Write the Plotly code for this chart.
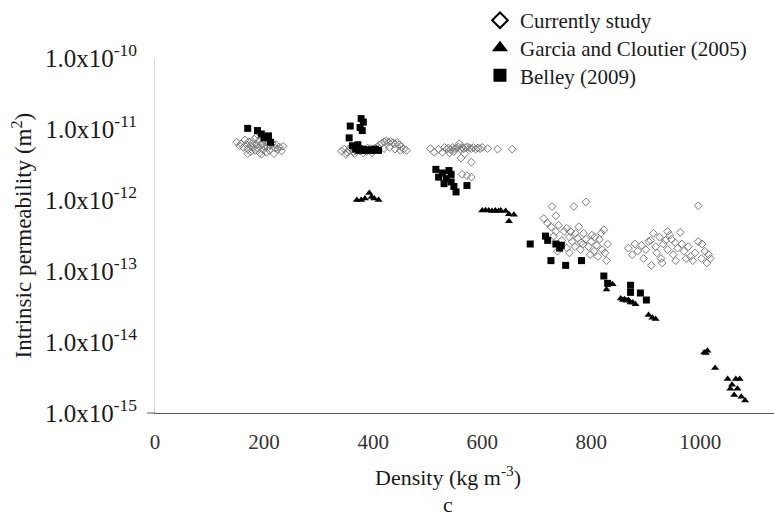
import plotly.graph_objects as go

# ---------------- data ----------------
# Currently study (open diamonds)
study_density = [
    150,155,158,162,165,168,170,172,175,176,178,180,182,184,186,188,190,192,194,196,198,200,202,204,206,208,210,212,215,218,220,222,225,228,232,235,185,195,205,170,
    342,347,352,356,360,364,368,372,376,380,384,388,392,396,400,404,350,358,366,374,382,390,398,408,412,416,420,424,428,432,436,440,444,448,452,456,461,420,430,440,450,
    505,512,520,527,531,535,538,542,546,550,553,556,560,563,566,570,573,577,580,584,588,592,596,600,610,628,655,540,558,561,548,568,580,563,572,580,
    728,768,790,713,735,726,740,755,777,823,731,771,786,801,746,781,750,760,765,770,775,780,785,790,795,800,805,810,815,820,825,830,745,755,738,812,798,760,735,720,762,806,818,828,
    868,875,880,885,892,896,900,905,909,914,918,920,925,928,932,936,940,944,947,950,954,958,963,966,970,974,978,982,986,990,996,996,1003,1008,1015,1002,1018,1012,930,910,955,940,
]
study_perm = [
    6.5e-12,5.8e-12,6.2e-12,5.5e-12,7.0e-12,6.0e-12,5.2e-12,6.6e-12,5.8e-12,4.8e-12,6.3e-12,5.5e-12,7.2e-12,5.0e-12,6.0e-12,5.4e-12,6.8e-12,4.6e-12,5.9e-12,6.4e-12,5.1e-12,5.7e-12,6.9e-12,4.7e-12,5.5e-12,6.1e-12,5.0e-12,5.8e-12,6.3e-12,4.5e-12,5.4e-12,6.0e-12,5.2e-12,5.6e-12,4.9e-12,5.7e-12,7.6e-12,4.4e-12,7.4e-12,4.5e-12,
    4.9e-12,5.2e-12,4.7e-12,5.0e-12,5.3e-12,4.8e-12,5.0e-12,5.1e-12,4.9e-12,5.2e-12,5.0e-12,4.8e-12,5.1e-12,5.3e-12,5.0e-12,5.4e-12,4.4e-12,5.5e-12,4.5e-12,5.6e-12,4.6e-12,5.4e-12,4.6e-12,5.6e-12,6.0e-12,6.3e-12,6.6e-12,6.8e-12,6.5e-12,6.7e-12,6.4e-12,6.2e-12,6.5e-12,6.0e-12,5.6e-12,5.2e-12,5.0e-12,5.3e-12,5.5e-12,5.2e-12,5.0e-12,
    5.3e-12,4.7e-12,5.2e-12,4.7e-12,5.5e-12,5.2e-12,5.4e-12,5.1e-12,5.5e-12,5.3e-12,5.4e-12,5.6e-12,5.2e-12,5.5e-12,5.3e-12,5.5e-12,5.6e-12,5.4e-12,5.3e-12,5.5e-12,5.2e-12,5.4e-12,5.3e-12,5.5e-12,5.3e-12,5.2e-12,5.2e-12,4.6e-12,6.2e-12,3.9e-12,4.8e-12,4.5e-12,3.4e-12,2.3e-12,2.2e-12,2.1e-12,
    8.1e-13,8.1e-13,9.4e-13,5.5e-13,6.0e-13,4.2e-13,4.4e-13,4.0e-13,4.2e-13,3.8e-13,3.1e-13,3.4e-13,3.4e-13,3.2e-13,2.7e-13,2.5e-13,3.6e-13,3.0e-13,2.6e-13,2.2e-13,2.9e-13,2.0e-13,2.4e-13,2.8e-13,2.2e-13,2.6e-13,1.9e-13,2.3e-13,2.8e-13,2.0e-13,1.8e-13,2.4e-13,2.3e-13,2.1e-13,1.9e-13,1.6e-13,1.7e-13,1.8e-13,3.6e-13,4.7e-13,3.6e-13,3.0e-13,3.4e-13,1.4e-13,
    2.1e-13,1.7e-13,2.4e-13,1.9e-13,2.3e-13,1.5e-13,2.0e-13,2.6e-13,2.7e-13,3.4e-13,2.2e-13,1.8e-13,3.0e-13,1.5e-13,2.4e-13,2.7e-13,2.0e-13,3.2e-13,2.8e-13,1.7e-13,2.5e-13,2.1e-13,3.5e-13,2.4e-13,1.9e-13,1.5e-13,2.2e-13,1.6e-13,1.4e-13,1.8e-13,8.3e-13,2.6e-13,2.4e-13,1.9e-13,1.7e-13,1.5e-13,1.5e-13,1.3e-13,1.3e-13,1.2e-13,1.4e-13,3.6e-13,
]

# Garcia and Cloutier (2005) (filled triangles)
garcia_density = [
    370,378,385,393,397,402,410,
    600,606,612,618,624,630,634,643,649,658,649,
    828,839,854,858,861,865,868,872,876,881,905,912,918,
    1007,1013,1010,1027,1050,1058,1065,1072,1055,1068,1062,1075,1082,
]
garcia_perm = [
    1.0e-12,1.0e-12,1.05e-12,1.25e-12,1.1e-12,1.05e-12,1.0e-12,
    7.1e-13,7.2e-13,7.1e-13,7.0e-13,7.1e-13,7.0e-13,7.1e-13,7.0e-13,6.3e-13,6.2e-13,5.0e-13,
    5.5e-14,6.5e-14,4.1e-14,3.9e-14,4.0e-14,3.8e-14,3.9e-14,3.6e-14,3.6e-14,3.4e-14,2.4e-14,2.2e-14,2.1e-14,
    7.1e-15,7.5e-15,7.0e-15,4.3e-15,3.0e-15,2.5e-15,3.0e-15,3.0e-15,2.2e-15,2.2e-15,1.8e-15,1.7e-15,1.5e-15,
]

# Belley (2009) (filled squares)
belley_density = [
    170,188,195,200,208,212,
    358,378,382,376,380,356,362,368,374,380,386,392,398,404,410,372,
    515,520,527,534,539,543,543,548,552,572,530,
    688,716,720,735,742,745,726,753,782,823,830,872,872,890,901,
]
belley_perm = [
    1.02e-11,9.5e-12,8.5e-12,7.5e-12,8.0e-12,6.5e-12,
    1.1e-11,1.4e-11,1.25e-11,1.05e-11,9.5e-12,7.5e-12,5.8e-12,5.2e-12,5.0e-12,5.2e-12,5.0e-12,5.1e-12,5.0e-12,5.2e-12,5.0e-12,6.0e-12,
    2.7e-12,2.1e-12,2.4e-12,2.0e-12,2.6e-12,2.3e-12,1.8e-12,1.55e-12,1.3e-12,1.6e-12,1.7e-12,
    2.4e-13,3.1e-13,2.7e-13,2.4e-13,2.1e-13,2.3e-13,1.4e-13,1.2e-13,1.4e-13,8.5e-14,6.7e-14,6.3e-14,5.0e-14,4.9e-14,3.9e-14,
]

series_names = ["Currently study", "Garcia and Cloutier (2005)", "Belley (2009)"]
x_ticks = [0, 200, 400, 600, 800, 1000]
y_ticks = [1e-15, 1e-14, 1e-13, 1e-12, 1e-11, 1e-10]
y_ticktext = ["1.0x10<sup>-15</sup>", "1.0x10<sup>-14</sup>", "1.0x10<sup>-13</sup>",
              "1.0x10<sup>-12</sup>", "1.0x10<sup>-11</sup>", "1.0x10<sup>-10</sup>"]
x_title = "Density (kg m<sup>-3</sup>)"
y_title = "Intrinsic permeability (m<sup>2</sup>)"
panel_label = "c"

FONT = "Liberation Serif, Times New Roman, serif"
PLOT_L, PLOT_T, PLOT_B = 155, 52, 413
PLOT_W = 774 - PLOT_L
PLOT_H = PLOT_B - PLOT_T


def py_to_paper(py):
    return (PLOT_B - py) / PLOT_H


fig = go.Figure()
fig.add_trace(go.Scatter(x=study_density, y=study_perm, mode="markers", showlegend=False,
                         marker=dict(symbol="diamond-open", size=6, color="#7a7a7a", line=dict(width=1, color="#7a7a7a"))))
fig.add_trace(go.Scatter(x=garcia_density, y=garcia_perm, mode="markers", showlegend=False,
                         marker=dict(symbol="triangle-up", size=7, color="#000000")))
fig.add_trace(go.Scatter(x=belley_density, y=belley_perm, mode="markers", showlegend=False,
                         marker=dict(symbol="square", size=7, color="#000000")))

# legend entries (bigger markers, as in the reference legend), one legend per row
legend_symbols = [dict(symbol="diamond-open", size=12, color="#000000", line=dict(width=2, color="#000000")),
                  dict(symbol="triangle-up", size=14, color="#000000"),
                  dict(symbol="square", size=13, color="#000000")]
legend_ids = ["legend", "legend2", "legend3"]
for name, mk, lid in zip(series_names, legend_symbols, legend_ids):
    fig.add_trace(go.Scatter(x=[None], y=[None], mode="markers", name=name, marker=mk, legend=lid))

legend_rows_px = [14, 42, 70]
legend_common = dict(x=0.525, xanchor="left", yanchor="middle", bgcolor="rgba(0,0,0,0)",
                     font=dict(family=FONT, size=21, color="#1a1a1a"), itemsizing="trace")

fig.update_layout(
    width=774, height=518,
    margin=dict(l=PLOT_L, r=0, t=PLOT_T, b=518 - PLOT_B),
    paper_bgcolor="white", plot_bgcolor="white",
    font=dict(family=FONT, size=21, color="#1a1a1a"),
    legend=dict(y=py_to_paper(legend_rows_px[0]), **legend_common),
    legend2=dict(y=py_to_paper(legend_rows_px[1]), **legend_common),
    legend3=dict(y=py_to_paper(legend_rows_px[2]), **legend_common),
    xaxis=dict(range=[0, 1135], tickvals=x_ticks, showgrid=False, zeroline=False,
               showline=True, linecolor="#595959", linewidth=1, ticks="",
               tickfont=dict(family=FONT, size=21, color="#333333"), ticklabelstandoff=10),
    yaxis=dict(type="log", range=[-15, -10], tickvals=y_ticks, ticktext=y_ticktext,
               showgrid=False, zeroline=False, showline=True, linecolor="#d9d9d9", linewidth=1, ticks="",
               tickfont=dict(family=FONT, size=25, color="#1a1a1a"), ticklabelstandoff=12),
    shapes=[dict(type="line", xref="paper", yref="paper", x0=-0.013, x1=0, y0=0, y1=0,
                 line=dict(color="#595959", width=1))],
    annotations=[
        dict(text=y_title, textangle=-90, xref="paper", yref="paper",
             x=(22 - PLOT_L) / PLOT_W, y=0.5, xanchor="center", yanchor="middle", showarrow=False,
             font=dict(family=FONT, size=23, color="#1a1a1a")),
        dict(text=x_title, xref="paper", yref="paper",
             x=(448 - PLOT_L) / PLOT_W, y=py_to_paper(477), xanchor="center", yanchor="middle", showarrow=False,
             font=dict(family=FONT, size=22, color="#1a1a1a")),
        dict(text=panel_label, xref="paper", yref="paper",
             x=(448 - PLOT_L) / PLOT_W, y=py_to_paper(506), xanchor="center", yanchor="middle", showarrow=False,
             font=dict(family=FONT, size=22, color="#1a1a1a")),
    ],
)

fig.write_html("out.html")
